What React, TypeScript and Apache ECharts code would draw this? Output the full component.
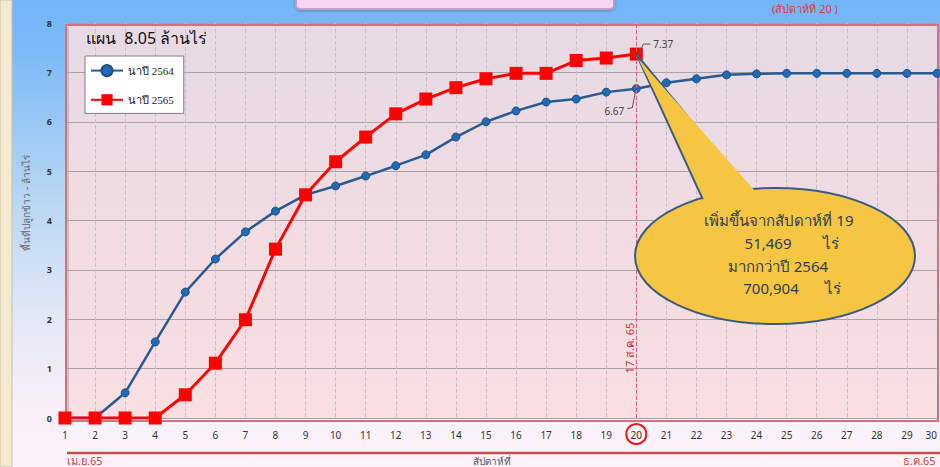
import React, { useEffect, useRef } from "react";
import * as echarts from "echarts";

const weeks = ["1","2","3","4","5","6","7","8","9","10","11","12","13","14","15","16","17","18","19","20","21","22","23","24","25","26","27","28","29","30"];
const area2564 = [0,0,0.51,1.54,2.55,3.22,3.77,4.19,4.52,4.70,4.90,5.11,5.33,5.69,6.00,6.22,6.40,6.46,6.60,6.67,6.79,6.87,6.95,6.97,6.98,6.98,6.98,6.98,6.98,6.98];
const area2565 = [0,0,0,0,0.47,1.11,1.99,3.42,4.52,5.19,5.69,6.16,6.46,6.69,6.87,6.98,6.98,7.24,7.29,7.37];
const seriesNames = ["นาปี 2564", "นาปี 2565"];
const currentWeek = "20";
const currentDateLabel = "17 ส.ค. 65";
const planTitle = "แผน  8.05 ล้านไร่";
const yAxisTitle = "พื้นที่ปลูกข้าว - ล้านไร่";
const weekTitle = "(สัปดาห์ที่ 20 )";
const startMonth = "เม.ย.65";
const endMonth = "ธ.ค.65";
const xAxisTitle = "สัปดาห์ที่";
const calloutLine1 = "เพิ่มขึ้นจากสัปดาห์ที่ 19";
const calloutValue1 = "51,469";
const calloutLine3 = "มากกว่าปี 2564";
const calloutValue2 = "700,904";
const raiUnit = "ไร่";

const FONT = "'Noto Sans', 'DejaVu Sans', sans-serif";

export default function App() {
  const ref = useRef<HTMLDivElement>(null);
  useEffect(() => {
    if (!ref.current) return;
    const chart = echarts.init(ref.current, undefined, { renderer: "svg", width: 940, height: 467 });
    chart.setOption({
      animation: false,
      backgroundColor: "transparent",
      textStyle: { fontFamily: FONT },
      grid: {
        left: 65,
        right: 3,
        top: 23,
        bottom: 49,
        outerBoundsMode: "none",
        containLabel: false,
        show: true,
        borderWidth: 0,
        backgroundColor: {
          type: "linear", x: 0, y: 0, x2: 0, y2: 1,
          colorStops: [
            { offset: 0, color: "#e6dae4" },
            { offset: 0.5, color: "#f0dce2" },
            { offset: 1, color: "#f9dfe2" },
          ],
        },
      },
      legend: {
        left: 85,
        top: 56,
        orient: "vertical",
        backgroundColor: "#ffffff",
        borderColor: "#7f7f7f",
        borderWidth: 1,
        padding: [8, 10, 8, 5],
        itemGap: 17,
        itemWidth: 32,
        itemHeight: 14,
        textStyle: { fontFamily: "'Liberation Serif', serif", fontSize: 11, color: "#222" },
        data: seriesNames,
      },
      xAxis: {
        type: "category",
        data: weeks,
        boundaryGap: false,
        axisLine: { show: false },
        axisTick: { show: false },
        axisLabel: { color: "#333", fontSize: 10, margin: 12, interval: 0, alignMaxLabel: "right" },
        splitLine: { show: true, lineStyle: { color: "#cbbfc6", type: "dashed", width: 1 } },
      },
      yAxis: {
        type: "value",
        min: 0,
        max: 8,
        interval: 1,
        axisLine: { show: false },
        axisTick: { show: false },
        axisLabel: { color: "#333", fontSize: 9, margin: 13, fontWeight: "bold" },
        splitLine: { show: true, lineStyle: { color: "#a9a2a6", width: 1 } },
      },
      series: [
        {
          name: seriesNames[0],
          type: "line",
          data: area2564,
          symbol: "circle",
          symbolSize: 8,
          lineStyle: { color: "#2b5a8e", width: 2.5 },
          itemStyle: { color: "#1f6bb5", borderColor: "#1d4f85", borderWidth: 1 },
          z: 3,
        },
        {
          name: seriesNames[1],
          type: "line",
          data: area2565,
          symbol: "rect",
          symbolSize: 13,
          lineStyle: { color: "#ff0000", width: 3 },
          itemStyle: { color: "#ff0000" },
          z: 4,
          markLine: {
            silent: true,
            symbol: "none",
            label: { show: false },
            lineStyle: { color: "#e0606e", type: "dashed", width: 1 },
            data: [{ xAxis: currentWeek }],
          },
        },
      ],
    });

    const tip = chart.convertToPixel({ gridIndex: 0 }, [currentWeek, area2565[area2565.length - 1]]) as number[];
    const p64 = chart.convertToPixel({ gridIndex: 0 }, [currentWeek, area2564[19]]) as number[];
    const base = chart.convertToPixel({ gridIndex: 0 }, [currentWeek, 0]) as number[];
    const cx = 775, cy = 256, rx = 140, ry = 68;
    const yOn = (x: number) => cy - ry * Math.sqrt(1 - ((x - cx) / rx) ** 2);
    const ax = 707, bx = 757;
    const yellow = "#f6c642";
    const outline = "#3c5a82";
    const cText = "#2e3d57";

    chart.setOption({
      graphic: [
        // left beige strip
        { type: "rect", shape: { x: 0, y: 0, width: 12, height: 467 }, style: { fill: "#f4ead0", stroke: "#c9c0ad", lineWidth: 1 }, z: -10, silent: true },
        // top pink box
        { type: "rect", shape: { x: 296, y: -12, width: 318, height: 21, r: 4 }, style: { fill: "#f8d6f3", stroke: "#c99bbd", lineWidth: 2, shadowColor: "rgba(0,0,0,0.25)", shadowBlur: 3, shadowOffsetY: 1 }, z: 10 },
        { type: "text", x: 772, y: 3, style: { text: weekTitle, fill: "#e03a3a", fontSize: 11, fontFamily: FONT, verticalAlign: "top" }, z: 10 },
        // plot frame
        { type: "rect", shape: { x: 66, y: 25, width: 872, height: 396 }, style: { fill: "none", stroke: "#d5707e", lineWidth: 2 }, z: 1 },
        { type: "line", shape: { x1: 68, y1: 27, x2: 68, y2: 420 }, style: { stroke: "#a8a0a6", lineWidth: 1 }, z: 1 },
        // x band
        { type: "rect", shape: { x: 66, y: 422, width: 874, height: 30 }, style: { fill: "rgba(250,242,250,0.8)" }, z: -5 },
        { type: "line", shape: { x1: 67, y1: 453, x2: 940, y2: 453 }, style: { stroke: "#c4504e", lineWidth: 2.5 }, z: 2 },
        { type: "text", x: 67, y: 466, style: { text: startMonth, fill: "#d23a3a", fontSize: 11, fontFamily: FONT, verticalAlign: "bottom" }, z: 2 },
        { type: "text", x: 903, y: 466, style: { text: endMonth, fill: "#d23a3a", fontSize: 11, fontFamily: FONT, verticalAlign: "bottom" }, z: 2 },
        { type: "text", x: 473, y: 466, style: { text: xAxisTitle, fill: "#555", fontSize: 10, fontFamily: FONT, verticalAlign: "bottom" }, z: 2 },
        // titles
        { type: "text", x: 86, y: 30, style: { text: planTitle, fill: "#111", fontSize: 16, fontFamily: FONT }, z: 10 },
        { type: "text", x: 26, y: 203, rotation: Math.PI / 2, style: { text: yAxisTitle, fill: "#666", fontSize: 10, fontFamily: FONT, align: "center", verticalAlign: "middle" }, z: 10 },
        // current date label
        { type: "text", x: base[0] - 7, y: base[1] - 70, rotation: Math.PI / 2, style: { text: currentDateLabel, fill: "#d0303c", fontSize: 11, fontFamily: FONT, align: "center", verticalAlign: "middle" }, z: 10 },
        // circle around week 20
        { type: "circle", shape: { cx: base[0], cy: base[1] + 16, r: 10 }, style: { fill: "none", stroke: "#ee1111", lineWidth: 2 }, z: 10 },
        // value labels
        { type: "polyline", shape: { points: [[tip[0] + 3, tip[1] - 1], [tip[0] + 7, tip[1] - 10], [tip[0] + 14, tip[1] - 10]] }, style: { stroke: "#555", lineWidth: 1, fill: "none" }, z: 10 },
        { type: "text", x: tip[0] + 17, y: tip[1] - 10, style: { text: "7.37", fill: "#444", fontSize: 10, fontFamily: FONT, verticalAlign: "middle" }, z: 10 },
        { type: "polyline", shape: { points: [[p64[0] - 1, p64[1] + 4], [p64[0] - 4, p64[1] + 19], [p64[0] - 9, p64[1] + 20]] }, style: { stroke: "#555", lineWidth: 1, fill: "none" }, z: 10 },
        { type: "text", x: p64[0] - 12, y: p64[1] + 22, style: { text: "6.67", fill: "#444", fontSize: 10, fontFamily: FONT, align: "right", verticalAlign: "middle" }, z: 10 },
        // callout
        { type: "ellipse", shape: { cx, cy, rx, ry }, style: { fill: yellow, stroke: outline, lineWidth: 2 }, z: 20 },
        { type: "polygon", shape: { points: [[tip[0], tip[1]], [ax, yOn(ax) + 12], [bx, yOn(bx) + 12]] }, style: { fill: yellow, stroke: outline, lineWidth: 2 }, z: 21 },
        { type: "ellipse", shape: { cx, cy, rx: rx - 1.5, ry: ry - 1.5 }, style: { fill: yellow }, z: 22 },
        { type: "polygon", shape: { points: [[tip[0] + 2, tip[1] + 5], [ax + 1.5, yOn(ax) + 3], [bx - 1.5, yOn(bx) + 3]] }, style: { fill: yellow }, z: 22 },
        { type: "text", x: 779, y: 220, style: { text: calloutLine1, fill: cText, fontSize: 15, fontFamily: FONT, align: "center", verticalAlign: "middle" }, z: 23 },
        { type: "text", x: 768, y: 243, style: { text: calloutValue1, fill: cText, fontSize: 15, fontFamily: FONT, align: "center", verticalAlign: "middle" }, z: 23 },
        { type: "text", x: 831, y: 243, style: { text: raiUnit, fill: cText, fontSize: 15, fontFamily: FONT, align: "center", verticalAlign: "middle" }, z: 23 },
        { type: "text", x: 778, y: 266, style: { text: calloutLine3, fill: cText, fontSize: 15, fontFamily: FONT, align: "center", verticalAlign: "middle" }, z: 23 },
        { type: "text", x: 771, y: 288, style: { text: calloutValue2, fill: cText, fontSize: 15, fontFamily: FONT, align: "center", verticalAlign: "middle" }, z: 23 },
        { type: "text", x: 833, y: 288, style: { text: raiUnit, fill: cText, fontSize: 15, fontFamily: FONT, align: "center", verticalAlign: "middle" }, z: 23 },
      ],
    });

    return () => chart.dispose();
  }, []);

  return (
    <div
      style={{
        position: "fixed",
        left: 0,
        top: 0,
        width: 940,
        height: 467,
        background: "linear-gradient(180deg, #71b5fa 0%, #7dbbf6 12%, #b3d5f3 40%, #e3e8f6 68%, #faeff8 88%, #fdf2f8 100%)",
      }}
    >
      <div ref={ref} style={{ width: 940, height: 467 }} />
    </div>
  );
}
